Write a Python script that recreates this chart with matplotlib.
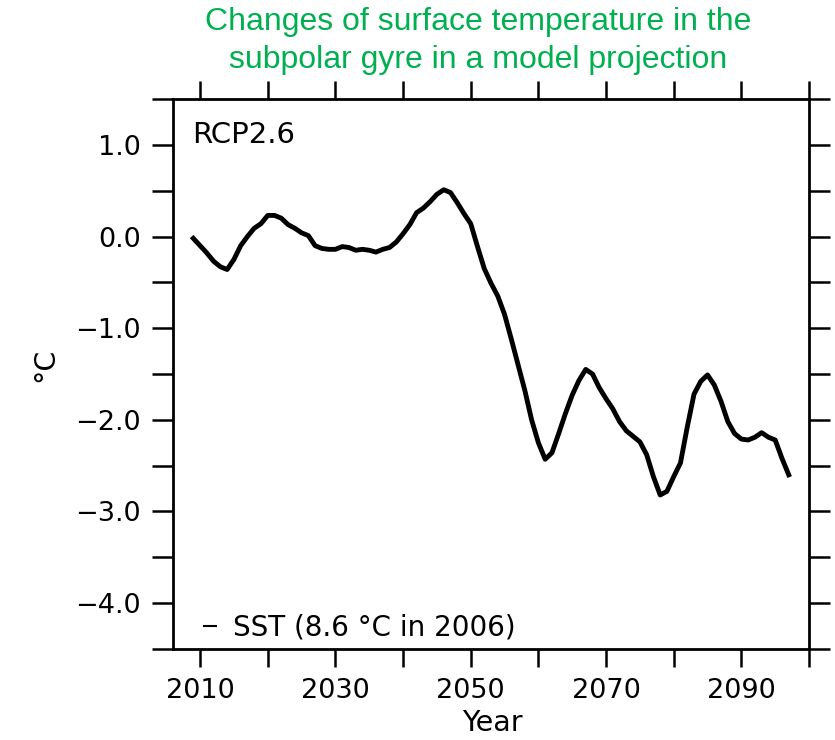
import numpy as np
import matplotlib
matplotlib.use("Agg")
import matplotlib.pyplot as plt
from matplotlib.lines import Line2D

# SST anomaly (°C, relative to 2006) in the subpolar gyre, RCP2.6 run
years = [2009, 2010, 2011, 2012, 2013, 2014, 2015, 2016, 2017, 2018,
         2019, 2020, 2021, 2022, 2023, 2024, 2025, 2026, 2027, 2028,
         2029, 2030, 2031, 2032, 2033, 2034, 2035, 2036, 2037, 2038,
         2039, 2040, 2041, 2042, 2043, 2044, 2045, 2046, 2047, 2048,
         2049, 2050, 2051, 2052, 2053, 2054, 2055, 2056, 2057, 2058,
         2059, 2060, 2061, 2062, 2063, 2064, 2065, 2066, 2067, 2068,
         2069, 2070, 2071, 2072, 2073, 2074, 2075, 2076, 2077, 2078,
         2079, 2080, 2081, 2082, 2083, 2084, 2085, 2086, 2087, 2088,
         2089, 2090, 2091, 2092, 2093, 2094, 2095, 2096, 2097]
sst = [-0.02, -0.10, -0.18, -0.27, -0.33, -0.36, -0.25, -0.10, 0.00, 0.09,
       0.14, 0.23, 0.23, 0.20, 0.13, 0.09, 0.04, 0.01, -0.10, -0.13,
       -0.14, -0.14, -0.11, -0.12, -0.15, -0.14, -0.15, -0.17, -0.14, -0.12,
       -0.06, 0.03, 0.13, 0.26, 0.31, 0.38, 0.46, 0.51, 0.48, 0.37,
       0.25, 0.14, -0.11, -0.35, -0.51, -0.65, -0.85, -1.12, -1.40, -1.68,
       -2.00, -2.25, -2.43, -2.36, -2.15, -1.93, -1.73, -1.57, -1.45, -1.50,
       -1.65, -1.77, -1.88, -2.02, -2.12, -2.18, -2.24, -2.38, -2.62, -2.82,
       -2.78, -2.62, -2.47, -2.08, -1.72, -1.58, -1.51, -1.62, -1.80, -2.02,
       -2.15, -2.21, -2.22, -2.19, -2.14, -2.19, -2.22, -2.42, -2.60]

x_ticks = np.arange(2010, 2101, 10)
x_labels = ["2010", "", "2030", "", "2050", "", "2070", "", "2090", ""]
y_ticks = np.arange(-4.5, 1.51, 0.5)
y_labels = [("\u2212%.1f" % -v if v < 0 else "%.1f" % v) if v == int(v) else ""
            for v in y_ticks]

plt.rcParams["font.family"] = ["DejaVu Sans"]

fig = plt.figure(figsize=(8.35, 7.4), dpi=100)
ax = fig.add_axes([0.2072, 0.1230, 0.7617, 0.7432])

ax.plot(years, sst, color="black", lw=3.5, solid_joinstyle="round")

ax.set_xlim(2006, 2100)
ax.set_ylim(-4.5, 1.5)
ax.set_xticks(x_ticks)
ax.set_xticklabels(x_labels)
ax.set_yticks(y_ticks)
ax.set_yticklabels(y_labels)
ax.tick_params(direction="out", length=13, width=1.8, labelsize=19.5,
               top=True, right=True, pad=8)
ax.tick_params(axis="y", length=15)
for s in ax.spines.values():
    s.set_linewidth(2.0)

ax.text(0.03, 0.96, "RCP2.6", transform=ax.transAxes, fontsize=21,
        ha="left", va="top")
ax.legend(handles=[Line2D([], [], color="black", lw=1.5)],
          labels=["SST (8.6 \u00b0C in 2006)"], loc="lower left",
          frameon=False, fontsize=20, handlelength=0.45, handletextpad=0.6,
          borderaxespad=0.25, bbox_to_anchor=(0.02, -0.02))

fig.text(492 / 835, 1 - 723 / 740, "Year", fontsize=20.5, ha="center",
         va="center")
fig.text(45 / 835, 1 - 365 / 740, "\u00b0C", fontsize=20.5, ha="center",
         va="center", rotation=90)

fig.text(478 / 835, 1 - 41 / 740,
         "Changes of surface temperature in the\nsubpolar gyre in a model projection",
         fontsize=23, color="#00B050", ha="center", va="center",
         family=["Liberation Sans"], linespacing=1.35)

fig.savefig("out.png", dpi=100)
